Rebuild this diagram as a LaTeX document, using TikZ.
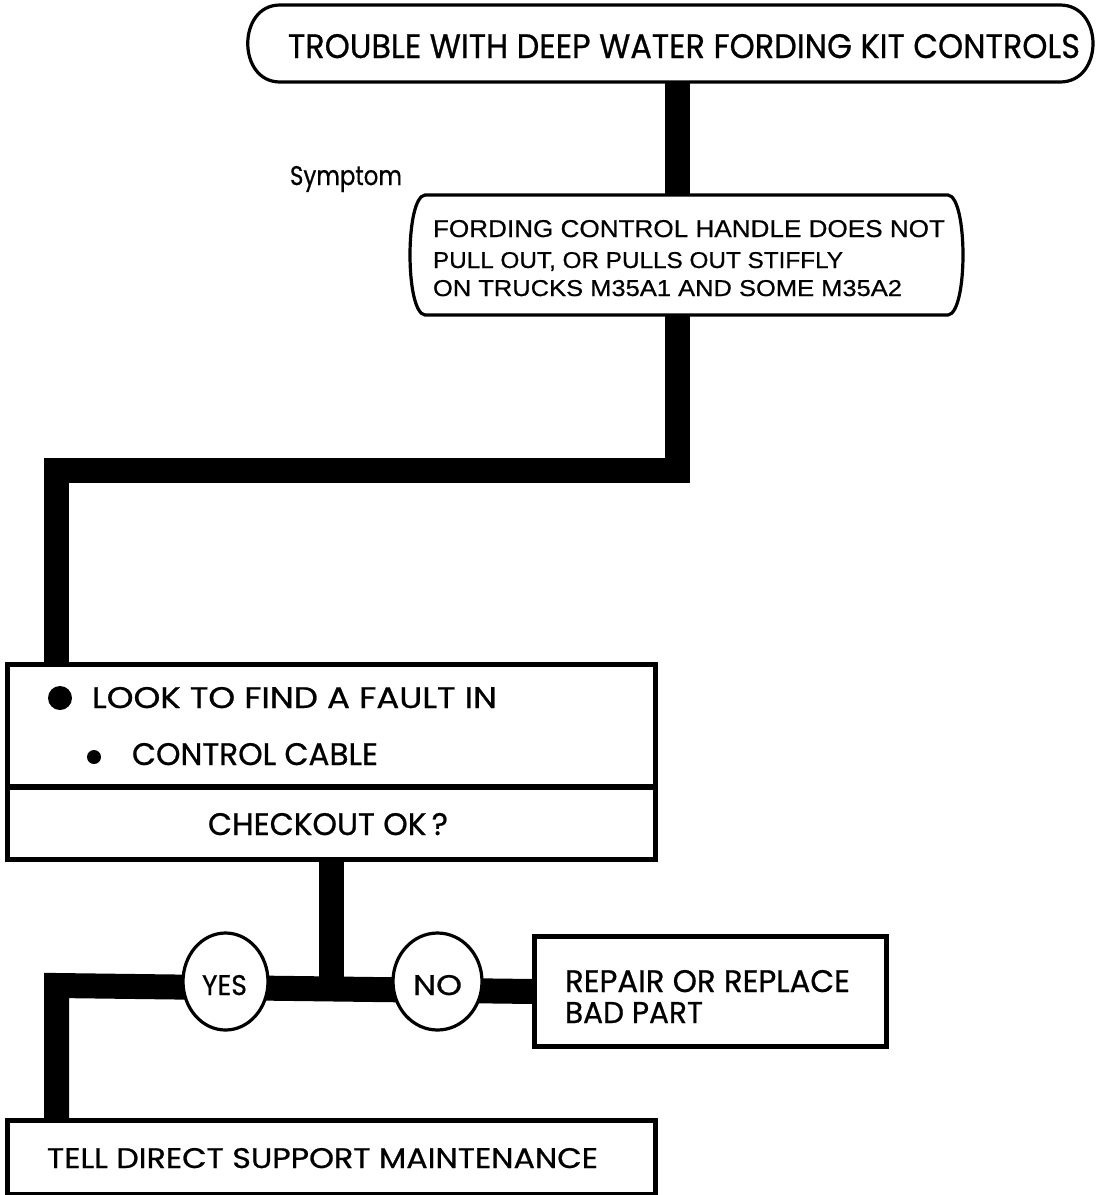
\documentclass[tikz,border=0pt]{standalone}
\usepackage{fontspec}
\usepackage{graphicx}
\newfontfamily\fut[FakeBold=0.7]{Poppins}
\newfontfamily\hel[FakeBold=0.6]{Liberation Sans}
\newlength\pxu
\setlength\pxu{0.5pt}
\newcommand{\fitt}[3]{\resizebox{#1\pxu}{#2\pxu}{#3}}
\tikzset{
  conn/.style={line width=12.5pt, line join=miter, line cap=butt},
  outline/.style={line width=1.6pt, fill=white},
  boxnode/.style={draw, line width=1.6pt, fill=white, rectangle, inner sep=0pt},
  ghost/.style={draw=none, rectangle, inner sep=0pt},
  txt/.style={inner sep=0pt, outer sep=0pt},
  decision/.style={draw, ellipse, line width=1.6pt, fill=white, inner sep=0pt},
}
\usetikzlibrary{shapes.geometric}
\begin{document}
\begin{tikzpicture}[x=0.5pt, y=-0.5pt]
\useasboundingbox (0,0) rectangle (1097,1195);
\fill[white] (0,0) rectangle (1097,1195);

% box placeholders
\node[ghost, minimum width=425pt, minimum height=38.5pt] (top) at (670,43.5) {};
\node[ghost, minimum width=275pt, minimum height=60pt] (sym) at (686.5,255) {};
\coordinate (j1) at (677.5,470);
\coordinate (j2) at (56.5,470);
\coordinate (j3) at (331.5,985.5);
\coordinate (j4) at (56.5,985.5);

\node[boxnode, minimum width=323.5pt, minimum height=61pt] (look) at (331.5,726) {};
\node[boxnode, minimum width=323.5pt, minimum height=36pt] (chk) at (331.5,823) {};
\node[boxnode, minimum width=175.5pt, minimum height=54.5pt] (rep) at (710.5,991.5) {};
\node[boxnode, minimum width=323.5pt, minimum height=36.5pt] (bot) at (331.5,1157.5) {};

% connectors
\draw[conn] (top.south -| j1) -- (sym.north -| j1);
\draw[conn] (sym.south -| j1) -- (j1) -- (j2) -- (look.north -| j2);
\draw[conn] (chk.south -| j3) -- (j3);
\draw[conn] (rep.west) -- (j4) -- (bot.north -| j4);

% redraw box borders over connector ends
\draw[line width=1.6pt] (look.north west) rectangle (look.south east);
\draw[line width=1.6pt] (chk.north west) rectangle (chk.south east);
\draw[line width=1.6pt] (rep.north west) rectangle (rep.south east);
\draw[line width=1.6pt] (bot.north west) rectangle (bot.south east);

% top rounded box
\draw[outline] (280,5) -- (1060,5) .. controls (1104,5) and (1104,82) .. (1060,82)
  -- (280,82) .. controls (237,82) and (237,5) .. (280,5) -- cycle;
% symptom box with bulging sides
\draw[outline] (425,195) -- (948,195) .. controls (968,197) and (968,313) .. (948,315)
  -- (425,315) .. controls (405,313) and (405,197) .. (425,195) -- cycle;

% decisions
\node[decision, minimum width=42.5pt, minimum height=48.5pt] (yes) at (225.5,981.5) {};
\node[decision, minimum width=44.5pt, minimum height=48.5pt] (no) at (437.5,981.5) {};
\node[txt, anchor=base west] (ty) at (202,995) {\fut\fitt{45}{20}{YES}};
\node[txt, anchor=base west] (tn) at (413,995) {\fut\fitt{49}{20}{NO}};

% texts
\node[txt, anchor=base west] (t1) at (288,58) {\fut\fitt{792}{24}{TROUBLE WITH DEEP WATER FORDING KIT CONTROLS}};
\node[txt, anchor=base west] (t2) at (290,185) {\fut\fitt{112}{19}{Symptom}};
\node[txt, anchor=base west] (s1) at (433,237) {\hel\fitt{512}{17}{FORDING CONTROL HANDLE DOES NOT}};
\node[txt, anchor=base west] (s2) at (433,268) {\hel\fitt{410}{16}{PULL OUT, OR PULLS OUT STIFFLY}};
\node[txt, anchor=base west] (s3) at (433,296) {\hel\fitt{469}{16}{ON TRUCKS M35A1 AND SOME M35A2}};

\fill (60,698) circle[radius=6pt];
\node[txt, anchor=base west] (l1) at (92,708) {\fut\fitt{405}{21}{LOOK TO FIND A FAULT IN}};
\fill (94,757) circle[radius=3.5pt];
\node[txt, anchor=base west] (l2) at (132,765) {\fut\fitt{246}{22}{CONTROL CABLE}};
\node[txt, anchor=base west] (l3) at (208,835) {\fut\fitt{240}{22}{CHECKOUT OK\,?}};

\node[txt, anchor=base west] (r1) at (565,992) {\fut\fitt{285}{22}{REPAIR OR REPLACE}};
\node[txt, anchor=base west] (r2) at (565,1023) {\fut\fitt{138}{21}{BAD PART}};
\node[txt, anchor=base west] (b1) at (47,1168) {\fut\fitt{551}{20}{TELL DIRECT SUPPORT MAINTENANCE}};
\end{tikzpicture}
\end{document}
